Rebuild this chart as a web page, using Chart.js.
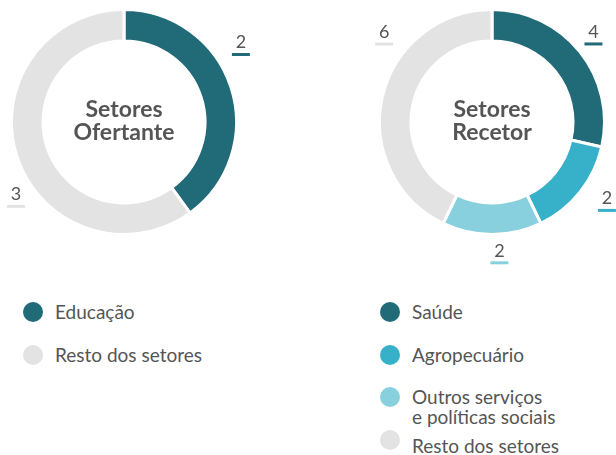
<!DOCTYPE html>
<html>
<head>
<meta charset="utf-8">
<script src="https://cdn.jsdelivr.net/npm/chart.js@4.4.1/dist/chart.umd.min.js"></script>
<style>
  html, body { margin: 0; padding: 0; background: #fff; }
  body { width: 616px; height: 455px; position: relative; overflow: hidden; font-family: Lato, sans-serif; color: #555; }
  .chart { position: absolute; top: 0; width: 250px; height: 280px; }
  #ofertante { left: 0; }
  #recetor { left: 366px; }
  .legend { position: absolute; top: 302px; font-size: 19px; line-height: 20px; }
  .legend .item { display: flex; align-items: flex-start; height: 42.5px; }
  .legend .dot { width: 20px; height: 20px; border-radius: 50%; margin-top: 0px; margin-right: 12px; flex: none; }
  .legend .txt { white-space: nowrap; }
</style>
</head>
<body>
<canvas id="ofertante" class="chart" width="250" height="280"></canvas>
<canvas id="recetor" class="chart" width="250" height="280"></canvas>
<div id="legOfertante" class="legend" style="left:23px"></div>
<div id="legRecetor" class="legend" style="left:380px"></div>
<script>
  // ===== dados =====
  const ofertanteTitulo = ['Setores', 'Ofertante'];
  const ofertanteLabels = ['Educação', 'Resto dos setores'];
  const ofertanteValores = [2, 3];
  const ofertanteCores = ['#216b79', '#e3e3e3'];

  const recetorTitulo = ['Setores', 'Recetor'];
  const recetorLabels = ['Saúde', 'Agropecuário', ['Outros serviços', 'e políticas sociais'], 'Resto dos setores'];
  const recetorValores = [4, 2, 2, 6];
  const recetorCores = ['#216b79', '#37b1c9', '#89d0de', '#e3e3e3'];

  // ===== plugins =====
  const rad = d => d * Math.PI / 180;

  // texto no centro do donut
  const centroPlugin = {
    id: 'centro',
    afterDraw(chart, args, opts) {
      let arc = chart.getDatasetMeta(0).data[0];
      if (!arc) return;
      let { x, y } = arc.getProps(['x', 'y'], true);
      let ctx = chart.ctx;
      ctx.save();
      ctx.font = 'bold 23px Lato';
      ctx.fillStyle = '#555';
      ctx.textAlign = 'center';
      ctx.textBaseline = 'middle';
      let n = opts.lines.length;
      opts.lines.forEach((l, i) => {
        ctx.fillText(l, x, y + (i - (n - 1) / 2) * 23 - 1);
      });
      ctx.restore();
    }
  };

  // valores fora do anel, com sublinhado na cor da fatia
  const valoresPlugin = {
    id: 'valores',
    afterDatasetsDraw(chart, args, opts) {
      let ctx = chart.ctx;
      let ds = chart.data.datasets[0];
      chart.getDatasetMeta(0).data.forEach((arc, i) => {
        let { x, y, startAngle, endAngle } = arc.getProps(['x', 'y', 'startAngle', 'endAngle'], true);
        let ang = (startAngle + endAngle) / 2 + rad(opts.offset[i] || 0);
        let dist = opts.dist[i];
        let px = x + Math.cos(ang) * dist;
        let py = y + Math.sin(ang) * dist;
        ctx.save();
        ctx.fillStyle = ds.backgroundColor[i];
        ctx.fillRect(px - 9, py - 1.5, 18, 3);
        ctx.fillStyle = '#555';
        ctx.font = '18px Lato';
        ctx.textAlign = 'center';
        ctx.textBaseline = 'middle';
        ctx.fillText(String(ds.data[i]), px, py - 12);
        ctx.restore();
      });
    }
  };

  function criarDonut(id, labels, valores, cores, titulo, padding, valoresOpts) {
    return new Chart(document.getElementById(id).getContext('2d'), {
      type: 'doughnut',
      data: {
        labels: labels,
        datasets: [{
          data: valores,
          backgroundColor: cores,
          borderColor: '#fff',
          borderWidth: 3,
          hoverOffset: 0
        }]
      },
      options: {
        responsive: false,
        animation: false,
        cutout: '72%',
        layout: { padding: padding },
        plugins: {
          legend: { display: false },
          tooltip: { enabled: false },
          centro: { lines: titulo },
          valores: valoresOpts
        }
      },
      plugins: [centroPlugin, valoresPlugin]
    });
  }

  function criarLegenda(id, labels, cores) {
    let el = document.getElementById(id);
    labels.forEach((l, i) => {
      let item = document.createElement('div');
      item.className = 'item';
      let dot = document.createElement('span');
      dot.className = 'dot';
      dot.style.background = cores[i];
      let txt = document.createElement('span');
      txt.className = 'txt';
      txt.innerHTML = Array.isArray(l) ? l.join('<br>') : l;
      if (i > 0 && Array.isArray(labels[i - 1])) txt.style.marginTop = '6px';
      item.appendChild(dot);
      item.appendChild(txt);
      el.appendChild(item);
    });
  }

  criarDonut('ofertante', ofertanteLabels, ofertanteValores, ofertanteCores, ofertanteTitulo,
    { left: 10, right: 12, top: 8, bottom: 44 },
    { offset: [-12, -20], dist: [135, 137] });

  criarDonut('recetor', recetorLabels, recetorValores, recetorCores, recetorTitulo,
    { left: 12, right: 10, top: 8, bottom: 44 },
    { offset: [1, -1, -3, 23], dist: [128, 145, 141, 133] });

  criarLegenda('legOfertante', ofertanteLabels, ofertanteCores);
  criarLegenda('legRecetor', recetorLabels, recetorCores);
</script>
</body>
</html>
